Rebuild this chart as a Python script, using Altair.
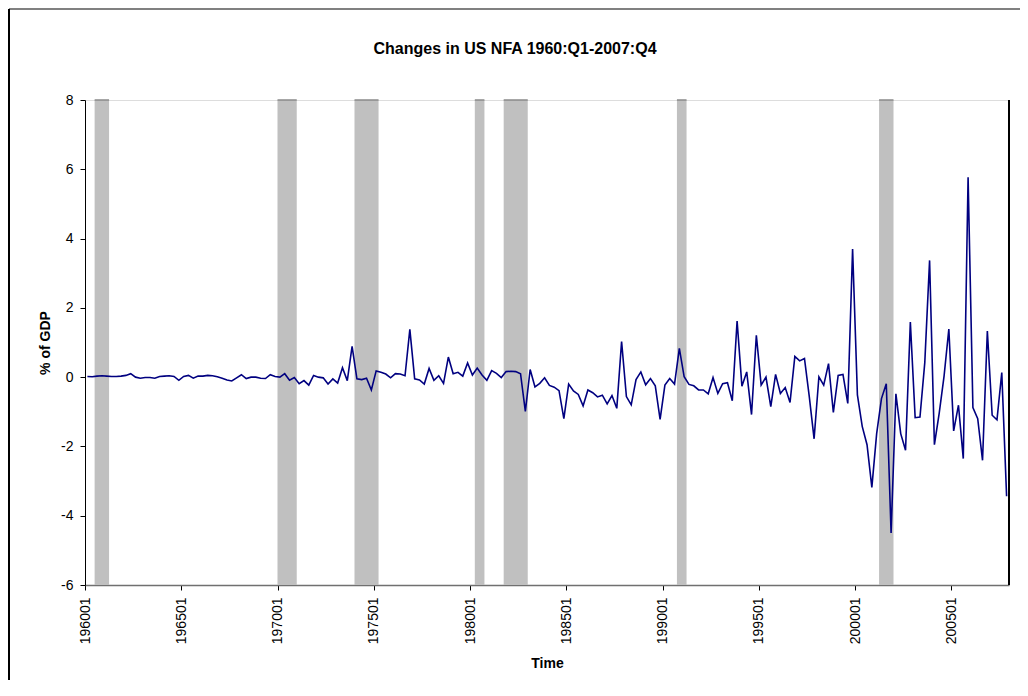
import altair as alt
import pandas as pd

# Quarterly changes in US net foreign assets, % of GDP, 1960Q1 .. 2007Q4
nfa_change = [
    0.02, 0.01, 0.03, 0.04, 0.03, 0.02, 0.02, 0.03, 0.05, 0.10,
    0.00, -0.03, -0.01, -0.01, -0.03, 0.02, 0.03, 0.04, 0.02, -0.09,
    0.02, 0.05, -0.03, 0.03, 0.03, 0.05, 0.04, 0.01, -0.03, -0.08,
    -0.11, -0.02, 0.07, -0.04, 0.00, 0.00, -0.03, -0.04, 0.07, 0.02,
    0.00, 0.10, -0.09, -0.01, -0.19, -0.10, -0.23, 0.05, 0.00, -0.02,
    -0.20, -0.05, -0.17, 0.27, -0.10, 0.89, -0.05, -0.07, -0.03, -0.37,
    0.18, 0.14, 0.09, -0.02, 0.10, 0.09, 0.04, 1.38, -0.05, -0.08,
    -0.20, 0.25, -0.09, 0.04, -0.18, 0.58, 0.10, 0.14, 0.03, 0.41,
    0.06, 0.26, 0.06, -0.09, 0.19, 0.11, -0.01, 0.16, 0.17, 0.16,
    0.10, -0.99, 0.22, -0.28, -0.18, -0.02, -0.24, -0.29, -0.39, -1.20,
    -0.20, -0.40, -0.50, -0.83, -0.37, -0.45, -0.57, -0.52, -0.77, -0.53,
    -0.90, 1.03, -0.56, -0.80, -0.07, 0.15, -0.22, -0.04, -0.25, -1.22,
    -0.23, -0.04, -0.20, 0.83, 0.01, -0.21, -0.25, -0.37, -0.37, -0.48,
    -0.01, -0.47, -0.19, -0.16, -0.68, 1.62, -0.26, 0.15, -1.08, 1.21,
    -0.23, 0.00, -0.85, 0.08, -0.47, -0.30, -0.73, 0.60, 0.47, 0.54,
    -0.56, -1.78, 0.01, -0.23, 0.39, -1.02, 0.05, 0.08, -0.76, 3.70,
    -0.51, -1.42, -1.95, -3.18, -1.63, -0.62, -0.19, -4.50, -0.48, -1.63,
    -2.11, 1.59, -1.17, -1.15, 0.42, 3.37, -1.95, -1.04, 0.02, 1.39,
    -1.55, -0.81, -2.35, 5.77, -0.88, -1.20, -2.40, 1.33, -1.10, -1.23,
    0.13, -3.44,
]

# Recession shading (first and last shaded quarter, YYYYQQ)
rec_start = ["196003", "197001", "197401", "198002", "198104", "199004", "200102"]
rec_end = ["196101", "197004", "197501", "198003", "198204", "199101", "200104"]

# Axis tick labels (every 5 years)
tick_labels = ["196001", "196501", "197001", "197501", "198001",
               "198501", "199001", "199501", "200001", "200501"]
y_ticks = [-6, -4, -2, 0, 2, 4, 6, 8]
y_lo, y_hi = -6, 8
title_text = ["Changes in US NFA 1960:Q1-2007:Q4"]


def q_index(code):
    return (int(code[:4]) - 1960) * 4 + int(code[4:]) - 1


periods = [f"{1960 + i // 4}{(i % 4) + 1:02d}" for i in range(len(nfa_change))]
df = pd.DataFrame({"idx": list(range(len(nfa_change))), "period": periods, "value": nfa_change})
rec_df = pd.DataFrame({
    "x0": [q_index(s) - 0.5 for s in rec_start],
    "x1": [q_index(e) + 0.5 for e in rec_end],
    "lo": [y_lo] * len(rec_start),
    "hi": [y_hi] * len(rec_start),
})
title_df = pd.DataFrame({"t": title_text})

W, H = 924, 485
FONT = "Liberation Sans"

xscale = alt.Scale(domain=[-0.5, len(nfa_change) - 0.5], nice=False, zero=False)
yscale = alt.Scale(domain=[y_lo, y_hi], nice=False, zero=False)

x_axis = alt.Axis(
    values=[q_index(t) - 0.5 for t in tick_labels],
    labelExpr="toString(1960 + (datum.value + 0.5) / 4) + '01'",
    labelAngle=270, labelFontSize=14, labelFont=FONT, labelColor="black",
    labelPadding=7, tickSize=5, tickColor="black", grid=False,
    domainColor="#707070", domainWidth=1.5,
    title="Time", titleFont=FONT, titleFontSize=14, titleFontWeight="bold",
    titleX=W / 2, titleY=78, titleBaseline="middle", titleAlign="center",
)
y_axis = alt.Axis(
    values=y_ticks, labelExpr="toString(datum.value)",
    labelFontSize=14, labelFont=FONT, labelColor="black",
    labelPadding=7, tickSize=5, tickColor="black", grid=False,
    domainColor="black",
    title="% of GDP", titleFont=FONT, titleFontSize=14, titleFontWeight="bold",
    titleAngle=270, titleX=-40, titleY=H / 2, titleBaseline="middle", titleAlign="center",
)

bars = alt.Chart(rec_df).mark_rect(color="#C0C0C0", strokeWidth=0).encode(
    x=alt.X("x0:Q", scale=xscale, axis=x_axis),
    x2="x1:Q",
    y=alt.Y("lo:Q", scale=yscale, axis=y_axis),
    y2="hi:Q",
)
bar_tops = alt.Chart(rec_df).mark_rule(color="#8A8A8A", strokeWidth=1.5).encode(
    x=alt.X("x0:Q", scale=xscale), x2="x1:Q", y=alt.Y("hi:Q", scale=yscale)
)
line = alt.Chart(df).mark_line(color="#000080", strokeWidth=1.6).encode(
    x=alt.X("idx:Q", scale=xscale),
    y=alt.Y("value:Q", scale=yscale),
)
right_edge = alt.Chart(df).mark_rule(color="black", strokeWidth=1).encode(
    x=alt.value(W), y=alt.value(0), y2=alt.value(H)
)
frame_top = alt.Chart(df).mark_rule(color="#808080", strokeWidth=2).encode(
    x=alt.value(-76), x2=alt.value(W + 11), y=alt.value(-91)
)
frame_left = alt.Chart(df).mark_rule(color="black", strokeWidth=1.5).encode(
    x=alt.value(-76.5), y=alt.value(-91), y2=alt.value(H + 95)
)
title = alt.Chart(title_df).mark_text(
    font=FONT, fontSize=16, fontWeight="bold", color="black",
    align="center", baseline="middle",
).encode(text="t:N", x=alt.value(W / 2 - 32), y=alt.value(-51))

chart = alt.layer(bars, bar_tops, line, right_edge, frame_top, frame_left, title).properties(
    width=W, height=H,
    autosize=alt.AutoSizeParams(type="none"),
    padding={"left": 77, "top": 92, "right": 11, "bottom": 95},
).configure_view(stroke=None).configure(background="white")

chart.save("out.html", embed_options={"renderer": "svg", "actions": False})
